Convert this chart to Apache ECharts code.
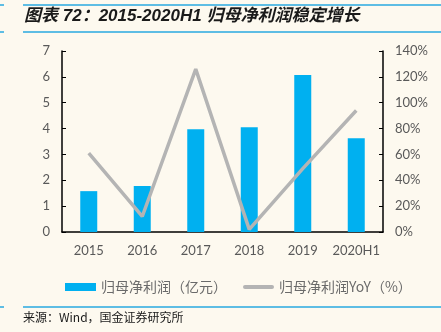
<!DOCTYPE html>
<html><head><meta charset="utf-8">
<script src="https://cdn.jsdelivr.net/npm/echarts@6/dist/echarts.min.js"></script>
<style>html,body{margin:0;padding:0;background:#FDF9EF;}#c{width:441px;height:332px;}</style>
</head><body><div id="c"></div>
<script>
const categories = ['2015','2016','2017','2018','2019','2020H1'];
const profitValues = [1.58, 1.78, 3.97, 4.05, 6.07, 3.63];
const yoyValues = [61, 12, 126, 2, 49, 94];
const leftTicks = {min:0, max:7, interval:1};
const rightTicks = {min:0, max:140, interval:20};
const titleText = '图表 72：2015-2020H1 归母净利润稳定增长';
const sourceText = '来源：Wind，国金证券研究所';
const seriesNames = ['归母净利润（亿元）', '归母净利润YoY（%）'];

const chart = echarts.init(document.getElementById('c'));
const lab = {color:'#595959', fontSize:13, fontFamily:'Lato, "Noto Sans CJK SC", sans-serif'};
chart.setOption({
  backgroundColor:'#FDF9EF',
  animation:false,
  grid:{left:62, right:58, top:51, bottom:100},
  legend:{
    left:60, top:275, itemWidth:31, itemHeight:8, itemGap:16,
    textStyle:{color:'#6a6a6a', fontSize:14, fontFamily:'"Noto Sans CJK SC", sans-serif'},
    data:[{name:seriesNames[0], icon:'rect'},
          {name:seriesNames[1], icon:'path://M2,0 H29 A2,2 0 0 1 29,4 H2 A2,2 0 0 1 2,0 Z'}]
  },
  xAxis:{
    type:'category', data:categories, boundaryGap:true,
    axisLine:{lineStyle:{color:'#000', width:1.5}},
    axisTick:{inside:true, length:4, lineStyle:{color:'#000'}},
    axisLabel:Object.assign({margin:12, interval:0}, lab)
  },
  yAxis:[
    {type:'value', min:leftTicks.min, max:leftTicks.max, interval:leftTicks.interval,
     splitLine:{show:false},
     axisLine:{show:true, lineStyle:{color:'#000', width:1.5}},
     axisTick:{show:true, inside:true, length:4, lineStyle:{color:'#000'}},
     axisLabel:Object.assign({margin:12}, lab)},
    {type:'value', min:rightTicks.min, max:rightTicks.max, interval:rightTicks.interval,
     splitLine:{show:false},
     axisLine:{show:true, lineStyle:{color:'#000', width:1.5}},
     axisTick:{show:true, inside:true, length:4, lineStyle:{color:'#000'}},
     axisLabel:Object.assign({margin:12, formatter:'{value}%'}, lab)}
  ],
  series:[
    {name:seriesNames[0], type:'bar', data:profitValues, barWidth:17, itemStyle:{color:'#00B0F0'}},
    {name:seriesNames[1], type:'line', yAxisIndex:1, data:yoyValues, symbol:'none',
     lineStyle:{color:'#B4B4B4', width:3.5}, itemStyle:{color:'#B4B4B4'}}
  ],
  graphic:[
    {type:'line', shape:{x1:23,y1:5,x2:441,y2:5}, style:{stroke:'#29A8E0', lineWidth:1.5}},
    {type:'line', shape:{x1:0,y1:5,x2:4,y2:5}, style:{stroke:'#29A8E0', lineWidth:1.5}},
    {type:'line', shape:{x1:23,y1:32,x2:441,y2:32}, style:{stroke:'#29A8E0', lineWidth:1.5}},
    {type:'line', shape:{x1:0,y1:32,x2:4,y2:32}, style:{stroke:'#29A8E0', lineWidth:1.5}},
    {type:'text', left:24, top:8, style:{text:titleText, fill:'#1a1a1a', font:'italic bold 17px "Liberation Sans", "Noto Sans CJK SC", sans-serif'}},
    {type:'line', shape:{x1:23,y1:307,x2:441,y2:307}, style:{stroke:'#29A8E0', lineWidth:1.5}},
    {type:'line', shape:{x1:0,y1:307,x2:4,y2:307}, style:{stroke:'#29A8E0', lineWidth:1.5}},
    {type:'text', left:23, top:311, style:{text:sourceText, fill:'#1a1a1a', font:'12px "Noto Sans CJK SC", sans-serif'}}
  ]
});
</script></body></html>
